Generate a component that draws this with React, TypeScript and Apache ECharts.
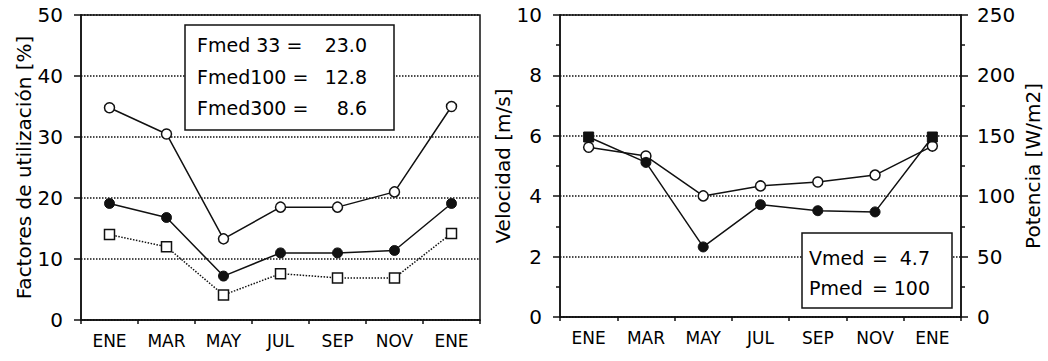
import React, { useEffect, useRef } from 'react';
import * as echarts from 'echarts';

const months = ['ENE', 'MAR', 'MAY', 'JUL', 'SEP', 'NOV', 'ENE'];
const fmed33 = [34.8, 30.5, 13.3, 18.5, 18.5, 21.0, 35.0];
const fmed100 = [19.1, 16.8, 7.2, 11.0, 11.0, 11.4, 19.1];
const fmed300 = [14.0, 12.0, 4.1, 7.6, 6.9, 6.9, 14.2];
const velocidad = [5.62, 5.33, 4.01, 4.34, 4.47, 4.7, 5.66];
const potencia = [149, 128, 58, 93, 88, 87, 149];

const boxLeftLabels = ['Fmed 33 =', 'Fmed100 =', 'Fmed300 ='];
const boxLeftValues = ['23.0', '12.8', '8.6'];
const boxRightLabels = ['Vmed', 'Pmed'];
const boxRightValues = ['4.7', '100'];

const FONT = 'DejaVu Sans';
const INK = '#000';

function txt(text: string, x: number, y: number, align: string) {
  return {
    type: 'text',
    x,
    y,
    z: 101,
    style: {
      text,
      font: `19px "${FONT}"`,
      fill: INK,
      align,
      verticalAlign: 'middle',
      textAlign: align,
      textVerticalAlign: 'middle',
    },
  };
}

export default function App() {
  const ref = useRef<HTMLDivElement>(null);
  useEffect(() => {
    if (!ref.current) return;
    const chart = echarts.init(ref.current, undefined, { renderer: 'svg' });
    const line = { color: '#111', width: 1.5 };
    const mkX = (grid: number) => [
      {
        type: 'category',
        gridIndex: grid,
        data: months,
        boundaryGap: true,
        axisLine: { lineStyle: line },
        axisTick: { alignWithLabel: true, length: 7, lineStyle: line },
        axisLabel: { color: INK, fontFamily: FONT, fontSize: 17, margin: 12 },
        splitLine: { show: false },
      },
      {
        type: 'category',
        gridIndex: grid,
        data: months,
        position: 'bottom',
        boundaryGap: true,
        axisLine: { show: false },
        axisTick: { show: true, length: 4, lineStyle: line },
        axisLabel: { show: false },
        splitLine: { show: false },
      },
    ];
    const nameStyle = { color: INK, fontFamily: FONT, fontSize: 20 };
    const split = { show: true, lineStyle: { color: '#111', type: 'dotted', width: 1.5 } };
    const openCircle = { color: '#fff', borderColor: '#111', borderWidth: 1.5 };
    const filled = { color: '#111', borderColor: '#111', borderWidth: 1 };
    chart.setOption({
      animation: false,
      grid: [
        { left: 81, top: 15, width: 399, height: 305, show: true, borderColor: '#111', borderWidth: 1.5, backgroundColor: 'transparent' },
        { left: 560, top: 15, width: 401, height: 302, show: true, borderColor: '#111', borderWidth: 1.5, backgroundColor: 'transparent' },
      ],
      xAxis: [...mkX(0), ...mkX(1)],
      yAxis: [
        {
          type: 'value',
          gridIndex: 0,
          min: 0,
          max: 50,
          interval: 10,
          axisLine: { show: true, lineStyle: line },
          axisTick: { show: true, length: 7, lineStyle: line },
          axisLabel: { color: INK, fontFamily: FONT, fontSize: 20, margin: 18 },
          splitLine: split,
          name: 'Factores de utilización [%]',
          nameLocation: 'middle',
          nameGap: 45,
          nameTextStyle: nameStyle,
        },
        {
          type: 'value',
          gridIndex: 1,
          min: 0,
          max: 10,
          interval: 2,
          axisLine: { show: true, lineStyle: line },
          axisTick: { show: true, length: 7, lineStyle: line },
          minorTick: { show: true, splitNumber: 2, length: 4, lineStyle: line },
          axisLabel: { color: INK, fontFamily: FONT, fontSize: 20, margin: 18 },
          splitLine: split,
          name: 'Velocidad [m/s]',
          nameLocation: 'middle',
          nameGap: 46,
          nameTextStyle: nameStyle,
        },
        {
          type: 'value',
          gridIndex: 1,
          position: 'right',
          min: 0,
          max: 250,
          interval: 50,
          axisLine: { show: true, lineStyle: line },
          axisTick: { show: true, length: 7, lineStyle: line },
          minorTick: { show: true, splitNumber: 2, length: 4, lineStyle: line },
          axisLabel: { color: INK, fontFamily: FONT, fontSize: 20, margin: 16 },
          splitLine: { show: false },
          name: 'Potencia [W/m2]',
          nameLocation: 'middle',
          nameGap: 62,
          nameTextStyle: nameStyle,
        },
      ],
      series: [
        {
          type: 'line',
          name: 'Fmed 33',
          xAxisIndex: 0,
          yAxisIndex: 0,
          data: fmed33,
          symbol: 'circle',
          symbolSize: 10,
          lineStyle: line,
          itemStyle: openCircle,
          z: 3,
        },
        {
          type: 'line',
          name: 'Fmed100',
          xAxisIndex: 0,
          yAxisIndex: 0,
          data: fmed100,
          symbol: 'circle',
          symbolSize: 10,
          lineStyle: line,
          itemStyle: filled,
          z: 3,
        },
        {
          type: 'line',
          name: 'Fmed300',
          xAxisIndex: 0,
          yAxisIndex: 0,
          data: fmed300,
          symbol: 'rect',
          symbolSize: 10,
          lineStyle: { color: '#111', width: 1.5, type: 'dotted' },
          itemStyle: openCircle,
          z: 3,
        },
        {
          type: 'line',
          name: 'Velocidad',
          xAxisIndex: 2,
          yAxisIndex: 1,
          data: velocidad,
          symbol: 'circle',
          symbolSize: 10,
          lineStyle: line,
          itemStyle: openCircle,
          z: 3,
        },
        {
          type: 'line',
          name: 'Potencia',
          xAxisIndex: 2,
          yAxisIndex: 2,
          data: potencia.map((v, i) =>
            i === 0 || i === potencia.length - 1 ? { value: v, symbol: 'rect' } : v
          ),
          symbol: 'circle',
          symbolSize: 10,
          lineStyle: line,
          itemStyle: filled,
          z: 4,
        },
      ],
      graphic: [
        {
          type: 'rect',
          z: 100,
          shape: { x: 185, y: 25, width: 209, height: 105 },
          style: { fill: '#fff', stroke: '#111', lineWidth: 1.5 },
        },
        ...boxLeftLabels.map((t, i) => txt(t, 197, 45 + i * 31.5, 'left')),
        ...boxLeftValues.map((t, i) => txt(t, 367, 45 + i * 31.5, 'right')),
        {
          type: 'rect',
          z: 100,
          shape: { x: 802, y: 233, width: 150, height: 75 },
          style: { fill: '#fff', stroke: '#111', lineWidth: 1.5 },
        },
        ...boxRightLabels.map((t, i) => txt(t, 809, 258 + i * 30, 'left')),
        ...boxRightLabels.map((_, i) => txt('=', 880, 258 + i * 30, 'center')),
        ...boxRightValues.map((t, i) => txt(t, 930, 258 + i * 30, 'right')),
      ],
    });
    return () => chart.dispose();
  }, []);
  return (
    <div
      ref={ref}
      style={{ position: 'fixed', left: 0, top: 0, width: 1048, height: 361, background: '#fff' }}
    />
  );
}
